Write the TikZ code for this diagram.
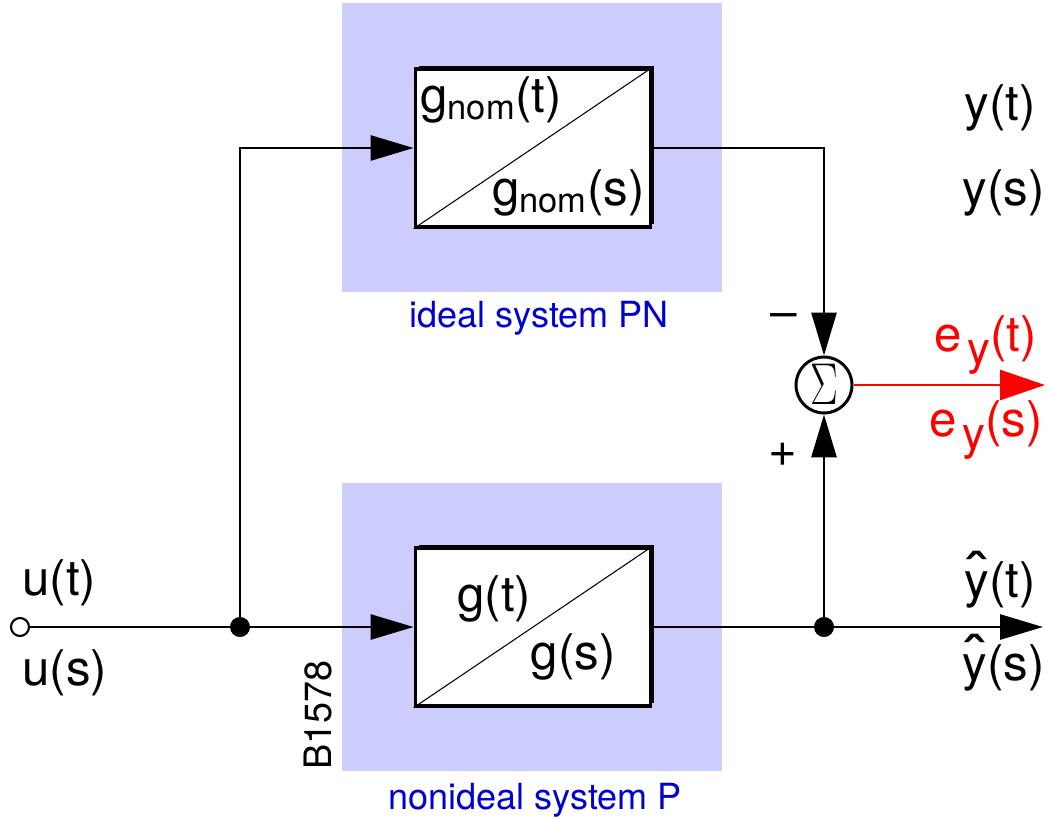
\documentclass[tikz,border=0pt]{standalone}
\usepackage{fontspec}
\usepackage{graphicx}
\setmainfont{TeX Gyre Heros}
\usetikzlibrary{arrows.meta,shadows}
\definecolor{bgblue}{RGB}{204,204,255}
\definecolor{labelblue}{RGB}{0,0,210}
\newcommand{\yhat}{\ooalign{y\cr\hidewidth\raisebox{0.1em}{\scalebox{1.5}[1.15]{ˆ}}\hidewidth\cr}}
\begin{document}
\begin{tikzpicture}[x=0.02cm,y=-0.02cm,
  lbl/.style={font=\fontsize{28}{31}\selectfont, inner sep=0pt, anchor=west},
  rlbl/.style={font=\fontsize{28}{31}\selectfont, inner sep=0pt, anchor=east},
  bluelbl/.style={font=\fontsize{20.5}{24}\selectfont, text=labelblue, inner sep=0pt},
  sysbox/.style={draw, line width=2.2pt, fill=white, minimum width=4.7cm, minimum height=3.15cm, inner sep=0pt,
     drop shadow={shadow xshift=1.8pt, shadow yshift=1.8pt, opacity=1, fill=black}},
  sig/.style={line width=1.6pt},
  arr/.style={sig, -{Triangle[length=0.86cm,width=0.5cm]}},
  dot/.style={circle, fill=black, inner sep=0pt, minimum size=0.4cm},
]
\useasboundingbox (0,0) rectangle (1047,819);
% background panels
\fill[bgblue] (342,3) rectangle (722,292);
\fill[bgblue] (342,483) rectangle (722,771);
\node[bluelbl] (lpn) at (539,318) {ideal system PN};
\node[bluelbl] (lp) at (535,800) {nonideal system P};
\node[font=\fontsize{21.5}{24}\selectfont, rotate=90, inner sep=0pt] (code) at (318,715) {B1578};

% system boxes
\node[sysbox] (G1) at (533,148) {};
\draw[line width=0.6pt] (G1.south west) -- (G1.north east);
\node[lbl] (gnt) at (420,100) {g\textsubscript{nom}(t)};
\node[rlbl] (gns) at (645,193) {g\textsubscript{nom}(s)};

\node[sysbox] (G2) at (533,627) {};
\draw[line width=0.6pt] (G2.south west) -- (G2.north east);
\node[lbl] (gt) at (457,599) {g(t)};
\node[rlbl] (gs) at (616,657) {g(s)};

% nodes
\node[circle, draw, line width=1.2pt, fill=white, inner sep=0pt, minimum size=0.36cm] (in) at (20,627) {};
\node[dot] (j1) at (240,627) {};
\node[dot] (j2) at (824,627) {};
\node[circle, draw, line width=1.7pt, fill=white, inner sep=0pt, minimum size=1.12cm] (sum) at (824,385) {};
\node[font=\fontsize{24}{26}\selectfont, xscale=0.95, yscale=1.35, inner sep=0pt] (sig) at (824,384) {$\Sigma$};
\coordinate (out) at (1043,627);
\coordinate (eout) at (1045,385);

% connectors
\draw[sig] (in) -- (j1);
\draw[arr] (j1) -- (G2.west);
\draw[arr] (j1) |- (G1.west);
\draw[arr] (G1.east) -| (sum.north);
\draw[sig] (G2.east) -- (j2);
\draw[arr] (j2) -- (sum.south);
\draw[arr] (j2) -- (out);
\draw[red, line width=1.6pt, -{Triangle[length=0.9cm,width=0.6cm]}] (sum.east) -- (eout);

% labels
\node[lbl] (ut) at (22,583) {u(t)};
\node[lbl] (us) at (22,673) {u(s)};
\node[rlbl] (yt) at (1036,108) {y(t)};
\node[rlbl] (ys) at (1045,193) {y(s)};
\node[rlbl] (yht) at (1036,585) {\yhat(t)};
\node[rlbl] (yhs) at (1045,668) {\yhat(s)};
\node[rlbl, text=red] (et) at (1037,345) {e\kern3pt\raisebox{-0.28em}{\fontsize{26}{28}\selectfont y}(t)};
\node[rlbl, text=red] (es) at (1043,430) {e\kern3pt\raisebox{-0.28em}{\fontsize{26}{28}\selectfont y}(s)};
\node[font=\fontsize{28}{31}\selectfont, inner sep=0pt, xscale=1.2] (minus) at (784,321) {\textminus};
\node[font=\fontsize{28}{31}\selectfont, inner sep=0pt] (plus) at (783,455) {+};
\end{tikzpicture}
\end{document}
